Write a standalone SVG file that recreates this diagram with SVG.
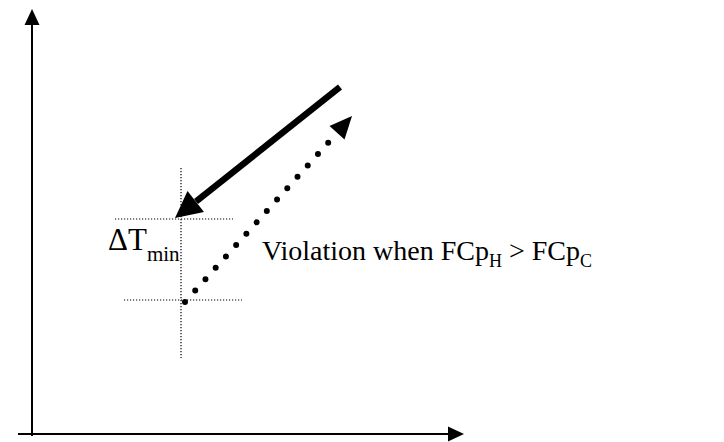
<svg xmlns="http://www.w3.org/2000/svg" width="724" height="442" viewBox="0 0 724 442">
<style>
.axis{stroke:#000;stroke-width:2;fill:none}
.guide{stroke:#000;stroke-width:1.2;stroke-dasharray:1.2 1.8;fill:none}
.head{fill:#000;stroke:none}
.lbl{font-family:"Liberation Serif","Times New Roman",serif;fill:#000}
</style>
<rect width="724" height="442" fill="#fff"/>
<g id="axes">
<line class="axis" x1="32" y1="436" x2="32" y2="24"/>
<polygon class="head" points="32,9 24.5,25 39.5,25"/>
<line class="axis" x1="18" y1="434" x2="450" y2="434"/>
<polygon class="head" points="464,434 448,426.5 448,441.5"/>
</g>
<g id="guides">
<line class="guide" x1="115" y1="219" x2="233" y2="219"/>
<line class="guide" x1="124" y1="300" x2="242" y2="300"/>
<line class="guide" x1="181" y1="168" x2="181" y2="358"/>
</g>
<g id="connectors">
<g id="hot-arrow">
<line x1="340" y1="87" x2="196" y2="201.5" stroke="#000" stroke-width="6.5"/>
<polygon class="head" points="175,218 204,212 187.5,191"/>
</g>
<g id="cold-arrow">
<line x1="185" y1="302" x2="336" y2="134" stroke="#000" stroke-width="6" stroke-linecap="round" stroke-dasharray="0 15.3"/>
<polygon class="head" points="352,116 344.5,139.5 329.5,126"/>
</g>
</g>
<g id="label-dtmin">
<text class="lbl" x="108" y="250" font-size="31">ΔT<tspan font-size="21" dy="11">min</tspan></text>
</g>
<g id="label-violation">
<text class="lbl" x="262" y="260" font-size="28">Violation when FCp<tspan font-size="18" dy="7">H</tspan><tspan dy="-7"> &gt; FCp</tspan><tspan font-size="18" dy="7">C</tspan></text>
</g>
</svg>
